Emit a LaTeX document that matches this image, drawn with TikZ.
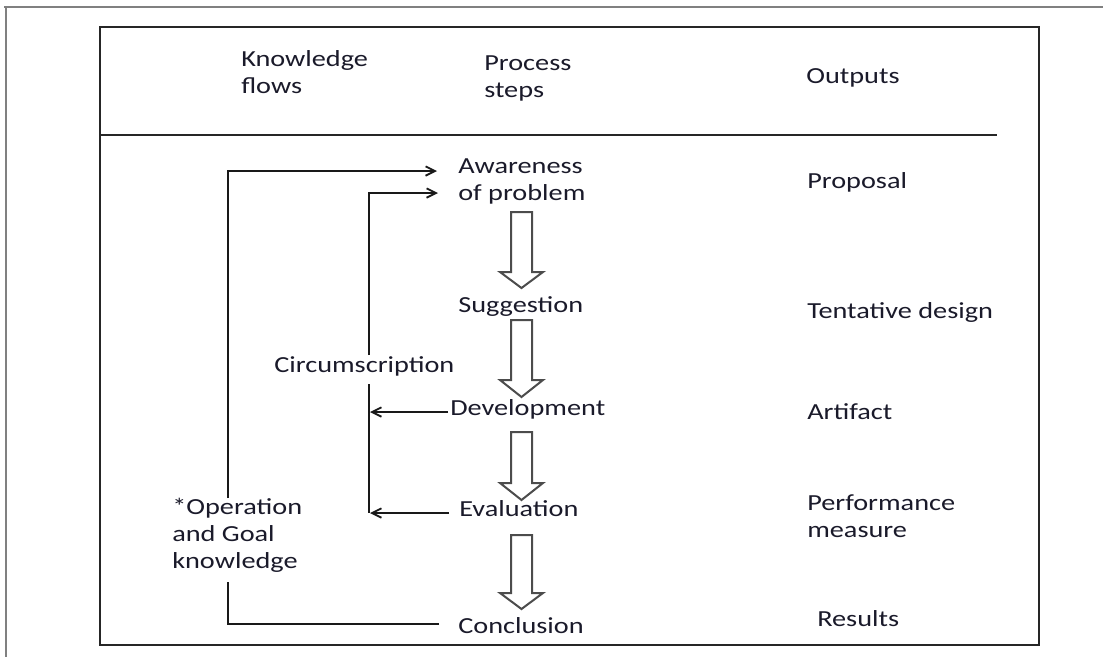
\documentclass[tikz,border=0pt]{standalone}
\usepackage{fontspec}
\setmainfont[FakeStretch=1.23]{Carlito}
\usetikzlibrary{arrows.meta}
\definecolor{txt}{HTML}{1A1A2A}
\begin{document}
\begin{tikzpicture}[x=0.75pt,y=-0.75pt,
  lbl/.style={anchor=base west,inner sep=0pt,align=left,text=txt,
    font=\fontsize{17.25pt}{20pt}\selectfont},
  conn/.style={line width=1.4pt,draw=black!90},
  arr/.style={conn,-{Straight Barb[length=7pt,width=7pt]}},
  blockarrow/.style={line width=1.5pt,draw=black!70,fill=white,line join=miter}]
\useasboundingbox (0,0) rectangle (1103,657);
% outer gray frame
\draw[gray,line width=1.5pt] (4,7) -- (1103,7);
\draw[gray,line width=1.5pt] (6,7) -- (6,657);
% inner box and separator
\draw[line width=2.2pt,draw=black!85] (100,27) rectangle (1039,645);
\draw[line width=2.2pt,draw=black!85] (100,135) -- (997,135);
% headers (multi-line nodes are anchored at the baseline of their last line)
\node[lbl] (kf) at (241,93) {Knowledge\\flows};
\node[lbl] (ps) at (484,97) {Process\\steps};
\node[lbl] (out) at (806,83) {Outputs};
% process steps
\node[lbl] (aw) at (458,200) {Awareness\\of problem};
\node[lbl] (sug) at (458,312) {Suggestion};
\node[lbl] (dev) at (450,415) {Development};
\node[lbl] (eva) at (459,516) {Evaluation};
\node[lbl] (con) at (458,633) {Conclusion};
% knowledge flows
\node[lbl] (circ) at (274,372) {Circumscription};
\node[lbl] (opg) at (172,568) {*Operation\\and Goal\\knowledge};
% outputs
\node[lbl] (p1) at (807,188) {Proposal};
\node[lbl] (p2) at (807,318) {Tentative design};
\node[lbl] (p3) at (807,419) {Artifact};
\node[lbl] (p4) at (807,537) {Performance\\measure};
\node[lbl] (p5) at (817,626) {Results};
% block arrows between steps
\foreach \t/\h/\p in {212/272/288, 320/380/397, 432/483/500, 535/593/609}{
  \draw[blockarrow] (511,\t) -- (532,\t) -- (532,\h) -- (543,\h) -- (521.5,\p)
    -- (500,\h) -- (511,\h) -- cycle;
}
% connector end points
\coordinate (opgtop) at (228,498);
\coordinate (opgbot) at (228,582);
\coordinate (awA) at (437,171);
\coordinate (awB) at (438,193);
\coordinate (circtop) at (369,355);
\coordinate (circbot) at (369,384);
\coordinate (devR) at (448,412);
\coordinate (devL) at (370,412);
\coordinate (evaR) at (449,513);
\coordinate (evaL) at (370,513);
\coordinate (conR) at (439,624);
% connectors
\draw[arr] (opgtop) |- (awA);
\draw[arr] (circtop) |- (awB);
\draw[conn] (circbot) -- (369,513);
\draw[arr] (devR) -- (devL);
\draw[arr] (evaR) -- (evaL);
\draw[conn] (conR) -| (opgbot);
\end{tikzpicture}
\end{document}
